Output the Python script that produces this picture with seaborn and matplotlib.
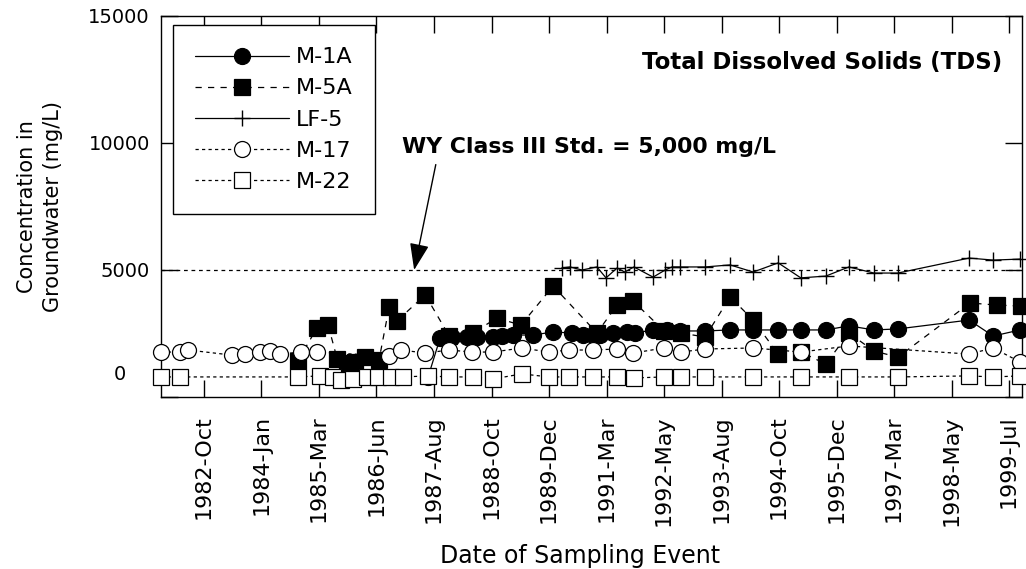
import numpy as np
import matplotlib
matplotlib.use("Agg")
import matplotlib.pyplot as plt
import matplotlib.transforms as mtransforms
import seaborn as sns

# Sampling dates (decimal years) and Total Dissolved Solids (mg/L) per well
m1a_t = [1987.46, 1987.71, 1987.96, 1988.27, 1988.48, 1988.81, 1989.00, 1989.23,
         1989.64, 1990.06, 1990.45, 1990.68, 1990.89, 1991.03, 1991.31, 1991.60,
         1991.76, 1992.14, 1992.43, 1992.70, 1993.22, 1993.74, 1994.22, 1994.74,
         1995.21, 1995.73, 1996.21, 1996.73, 1997.23, 1998.71, 1999.21, 1999.77]
m1a_v = [790, 2320, 2360, 2360, 2360, 2360, 2400, 2440,
         2440, 2560, 2520, 2440, 2440, 2440, 2520, 2560,
         2520, 2640, 2640, 2600, 2600, 2640, 2640, 2640,
         2640, 2640, 2800, 2640, 2680, 3030, 2400, 2640]

m5a_t = [1984.75, 1985.15, 1985.38, 1985.57, 1985.77, 1985.94, 1986.15, 1986.44,
         1986.65, 1986.81, 1987.40, 1987.90, 1988.39, 1988.89, 1989.39, 1990.06,
         1990.97, 1991.39, 1991.72, 1992.37, 1992.72, 1993.22, 1993.74, 1994.22,
         1994.74, 1995.21, 1995.73, 1996.21, 1996.73, 1997.23, 1998.73, 1999.29,
         1999.79]
m5a_v = [1420, 2720, 2840, 1500, 1340, 1380, 1580, 1460,
         3540, 2990, 4020, 2400, 2520, 3110, 2830, 4370,
         2520, 3620, 3780, 2600, 2520, 2360, 3940, 3030,
         1690, 1770, 1300, 2520, 1810, 1570, 3700, 3620,
         3580]

lf5_t = [1990.24, 1990.41, 1990.66, 1990.97, 1991.16, 1991.39, 1991.55, 1991.74,
         1992.14, 1992.39, 1992.53, 1992.70, 1993.22, 1993.74, 1994.22, 1994.74,
         1995.21, 1995.73, 1996.21, 1996.73, 1997.23, 1998.71, 1999.21, 1999.77]
lf5_v = [5080, 5120, 5000, 5120, 4690, 5080, 4920, 5120,
         4720, 5000, 5120, 5120, 5120, 5200, 4920, 5280,
         4690, 4760, 5120, 4880, 4880, 5470, 5390, 5430]

m17_t = [1981.91, 1982.30, 1982.47, 1983.38, 1983.65, 1983.97, 1984.17, 1984.38,
         1984.82, 1985.15, 1986.65, 1986.90, 1987.40, 1987.90, 1988.37, 1988.81,
         1989.41, 1989.97, 1990.39, 1990.89, 1991.39, 1991.72, 1992.37, 1992.72,
         1993.22, 1994.22, 1995.21, 1996.21, 1998.71, 1999.21, 1999.77]
m17_v = [1770, 1770, 1850, 1650, 1690, 1770, 1810, 1690,
         1770, 1770, 1610, 1850, 1730, 1850, 1770, 1770,
         1930, 1770, 1850, 1850, 1890, 1730, 1930, 1770,
         1890, 1930, 1770, 2010, 1690, 1930, 1380]

m22_t = [1981.91, 1982.30, 1984.75, 1985.21, 1985.48, 1985.65, 1985.90, 1986.19,
         1986.42, 1986.69, 1986.94, 1987.46, 1987.90, 1988.39, 1988.81, 1989.41,
         1989.97, 1990.39, 1990.89, 1991.39, 1991.74, 1992.37, 1992.72, 1993.22,
         1994.22, 1995.21, 1996.21, 1997.23, 1998.71, 1999.21, 1999.77]
m22_v = [790, 790, 790, 830, 790, 670, 710, 790,
         790, 790, 790, 830, 790, 790, 710, 910,
         790, 790, 790, 790, 750, 790, 790, 790,
         790, 790, 790, 790, 830, 790, 830]

date_labels = ["1982-Oct", "1984-Jan", "1985-Mar", "1986-Jun", "1987-Aug",
               "1988-Oct", "1989-Dec", "1991-Mar", "1992-May", "1993-Aug",
               "1994-Oct", "1995-Dec", "1997-Mar", "1998-May", "1999-Jul"]
y_ticks = [0, 5000, 10000, 15000]
standard_mg_l = 5000

sns.set_style("ticks")
plt.rcParams["font.family"] = ["DejaVu Sans"]
plt.rcParams["axes.linewidth"] = 1.0
plt.rcParams["text.color"] = "black"
plt.rcParams["axes.labelcolor"] = "black"
plt.rcParams["xtick.color"] = "black"
plt.rcParams["ytick.color"] = "black"
plt.rcParams["axes.edgecolor"] = "black"

W, H = 1026, 569
fig = plt.figure(figsize=(W / 100, H / 100), dpi=100)
ax = fig.add_axes([161 / W, 1 - 397 / H, (1022 - 161) / W, (397 - 16) / H])

# WY Class III standard
ax.axhline(standard_mg_l, color="black", lw=0.9, ls=(0, (3, 3)), zorder=1)

dotted = (0, (2.6, 2.6))
series = [
    ("M-1A", m1a_t, m1a_v, dict(linestyle="-", marker="o", markerfacecolor="black", markersize=11.5)),
    ("M-5A", m5a_t, m5a_v, dict(linestyle=(0, (5, 5)), marker="s", markerfacecolor="black", markersize=11.5)),
    ("LF-5", lf5_t, lf5_v, dict(linestyle="-", marker="+", markersize=11, markeredgewidth=1.0)),
    ("M-17", m17_t, m17_v, dict(linestyle=dotted, marker="o", markerfacecolor="white", markersize=11.5)),
    ("M-22", m22_t, m22_v, dict(linestyle=dotted, marker="s", markerfacecolor="white", markersize=11.5)),
]
for i, (name, t, v, style) in enumerate(series):
    kw = dict(markeredgewidth=0.9)
    kw.update(style)
    sns.lineplot(x=t, y=v, ax=ax, color="black", linewidth=0.9, sort=False,
                 estimator=None, markeredgecolor="black", label=name,
                 clip_on=False, zorder=2 + i, **kw)

x_lo, x_hi = 1981.906, 1999.81
ax.set_xlim(x_lo, x_hi)
ax.set_ylim(0, 15000)
tick_pos = np.linspace(1982.80, 1999.54, len(date_labels))
ax.set_xticks(tick_pos)
ax.set_xticklabels(date_labels, rotation=90, fontsize=16)
ax.set_yticks(y_ticks)
ax.set_yticklabels([str(v) for v in y_ticks], fontsize=14)
ax.tick_params(direction="in", length=12, width=1.0, top=True, right=True)
ax.tick_params(axis="x", pad=13)
ax.tick_params(axis="y", pad=8)
# the zero label sits up and to the left of the axis corner
zero_lbl = ax.get_yticklabels()[0]
zero_lbl.set_transform(zero_lbl.get_transform() +
                       mtransforms.ScaledTranslation(-24 / 100, 25 / 100, fig.dpi_scale_trans))

ax.set_xlabel("Date of Sampling Event", fontsize=17)
ax.xaxis.set_label_coords((580 - 161) / (1022 - 161), -0.385)
ax.set_ylabel("Concentration in\nGroundwater (mg/L)", fontsize=15, labelpad=18, linespacing=1.4)

ax.text(0.977, 0.877, "Total Dissolved Solids (TDS)", transform=ax.transAxes,
        ha="right", va="center", fontsize=16.5, fontweight="bold")
ax.text(0.280, 0.656, "WY Class III Std. = 5,000 mg/L", transform=ax.transAxes,
        ha="left", va="center", fontsize=15.8, fontweight="bold")
ax.annotate("", xy=(1987.17, standard_mg_l), xytext=(1987.62, 9150),
            arrowprops=dict(arrowstyle="-|>,head_length=1.1,head_width=0.4",
                            mutation_scale=15, lw=1.0, color="black",
                            shrinkA=0, shrinkB=0))

handles, labels = ax.get_legend_handles_labels()
leg = ax.legend(handles, labels, loc="upper left", bbox_to_anchor=(0.0139, 0.976),
                borderaxespad=0, frameon=True, fancybox=False, edgecolor="black",
                framealpha=1, fontsize=16, handlelength=4.2, labelspacing=0.5,
                borderpad=1.0, handletextpad=0.35)
leg.get_frame().set_linewidth(1.0)
leg.set_zorder(20)

fig.savefig("out.png", dpi=100)
